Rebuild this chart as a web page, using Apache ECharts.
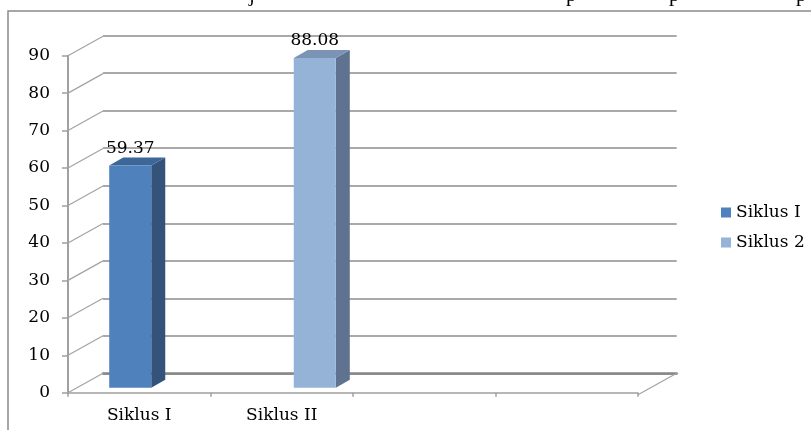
<!DOCTYPE html>
<html>
<head>
<meta charset="utf-8">
<script src="https://cdn.jsdelivr.net/npm/echarts@6/dist/echarts.min.js"></script>
<style>html,body{margin:0;padding:0;background:#fff;}#c{width:811px;height:430px;}</style>
</head>
<body>
<div id="c"></div>
<script>
const categories = ['Siklus I', 'Siklus II', '', ''];
const seriesNames = ['Siklus I', 'Siklus 2'];
const siklus1 = [59.37, null, null, null];
const siklus2 = [null, 88.08, null, null];
const yTickValues = [0, 10, 20, 30, 40, 50, 60, 70, 80, 90];

const FONT = '"DejaVu Serif", "Liberation Serif", serif';
const DEPTH_X = 35, DEPTH_Y = -19.5;   // floor depth (projection)
const BAR_DX = 12, BAR_DY = -5;        // bar front-face shift
const BAR_SX = 14, BAR_SY = -8;        // bar depth

function barRender(slot, front, side, topc) {
  return function (params, api) {
    const cat = api.value(0), val = api.value(1);
    const base = api.coord([cat, 0]);
    const top = api.coord([cat, val]);
    const bw = api.size([1, 0])[0];
    const w = bw * 0.295;
    const x0 = (slot < 0 ? base[0] - w : base[0]) + BAR_DX;
    const x1 = x0 + w;
    const yt = top[1] + BAR_DY, yb = base[1] + BAR_DY;
    return {
      type: 'group',
      children: [
        { type: 'polygon', shape: { points: [[x1, yt], [x1 + BAR_SX, yt + BAR_SY], [x1 + BAR_SX, yb + BAR_SY], [x1, yb]] }, style: { fill: side } },
        { type: 'polygon', shape: { points: [[x0, yt], [x0 + BAR_SX, yt + BAR_SY], [x1 + BAR_SX, yt + BAR_SY], [x1, yt]] }, style: { fill: topc } },
        { type: 'rect', shape: { x: x0, y: yt, width: w, height: yb - yt }, style: { fill: front } },
        { type: 'text', x: (x0 + x1) / 2, y: yt - 17, style: { text: val.toFixed(2), font: '17px ' + FONT, fill: '#000', align: 'center', verticalAlign: 'middle' } }
      ]
    };
  };
}

function toData(arr) {
  const out = [];
  arr.forEach((v, i) => { if (v != null) out.push([i, v]); });
  return out;
}

const chart = echarts.init(document.getElementById('c'), null, { renderer: 'canvas' });
chart.setOption({
  animation: false,
  backgroundColor: '#fff',
  graphic: [
    { type: 'rect', shape: { x: 8, y: 11, width: 900, height: 500 }, style: { fill: 'none', stroke: '#8a8a8a', lineWidth: 1.5 }, silent: true },
    { type: 'text', x: 249, y: -15, style: { text: 'j', font: '21px "Liberation Serif"', fill: '#000' } },
    { type: 'text', x: 566, y: -15, style: { text: 'p', font: '21px "Liberation Serif"', fill: '#000' } },
    { type: 'text', x: 669, y: -15, style: { text: 'p', font: '21px "Liberation Serif"', fill: '#000' } },
    { type: 'text', x: 796, y: -15, style: { text: 'p', font: '21px "Liberation Serif"', fill: '#000' } }
  ],
  legend: {
    data: seriesNames,
    orient: 'vertical',
    left: 716,
    top: 199,
    itemWidth: 10,
    itemHeight: 10,
    itemGap: 13,
    icon: 'rect',
    textStyle: { fontFamily: FONT, fontSize: 17, color: '#000' }
  },
  grid: [
    { left: 68, right: 173, top: 55.7, bottom: 37.3 },
    { left: 103, right: 134.3, top: 35.7, bottom: 56.7 }
  ],
  xAxis: [
    {
      gridIndex: 0, type: 'category', data: categories, offset: 2,
      axisLine: { show: true, lineStyle: { color: '#a0a0a0', width: 1.5 } },
      axisTick: { show: true, interval: 0, length: 4, lineStyle: { color: '#a0a0a0', width: 1.5 } },
      axisLabel: { interval: 0, margin: 12, fontFamily: FONT, fontSize: 17, color: '#000' },
      splitLine: { show: false }
    },
    {
      gridIndex: 1, type: 'category', data: categories,
      axisLine: { show: true, lineStyle: { color: '#878787', width: 2.5 } },
      axisTick: { show: false }, axisLabel: { show: false }, splitLine: { show: false }
    }
  ],
  yAxis: [
    {
      gridIndex: 0, type: 'value', min: 0, max: 90, interval: 10,
      axisLine: { show: true, lineStyle: { color: '#a0a0a0', width: 2 } },
      axisTick: { show: true, length: 6, lineStyle: { color: '#a0a0a0', width: 1.5 } },
      axisLabel: { margin: 18, fontFamily: FONT, fontSize: 17, color: '#000' },
      splitLine: { show: false }
    },
    {
      gridIndex: 1, type: 'value', min: 0, max: 90, interval: 10,
      axisLine: { show: false }, axisTick: { show: false }, axisLabel: { show: false },
      splitLine: { show: true, lineStyle: { color: '#8c8c8c', width: 1.5 } }
    }
  ],
  series: [
    {
      type: 'custom', name: '_diag', xAxisIndex: 0, yAxisIndex: 0, silent: true, z: 1,
      data: yTickValues.map(v => [0, v]),
      renderItem: function (params, api) {
        const v = api.value(1);
        const p = api.coord([0, v]);
        const bw = api.size([1, 0])[0];
        const x = p[0] - bw / 2;
        const children = [
          { type: 'line', shape: { x1: x, y1: p[1], x2: x + DEPTH_X, y2: p[1] + DEPTH_Y }, style: { stroke: '#a3a3a3', lineWidth: 1.2 } }
        ];
        if (v === 0) {
          const pr = api.coord([categories.length - 1, 0]);
          const xr = pr[0] + bw / 2;
          children.push({ type: 'line', shape: { x1: xr, y1: p[1] + 2, x2: xr + 38.7, y2: p[1] + DEPTH_Y }, style: { stroke: '#a3a3a3', lineWidth: 1.2 } });
        }
        return { type: 'group', children: children };
      }
    },
    {
      type: 'custom', name: seriesNames[0], xAxisIndex: 0, yAxisIndex: 0, z: 3,
      itemStyle: { color: '#4f81bd' },
      data: toData(siklus1),
      renderItem: barRender(-1, '#4f81bd', '#34527a', '#3d6699')
    },
    {
      type: 'custom', name: seriesNames[1], xAxisIndex: 0, yAxisIndex: 0, z: 3,
      itemStyle: { color: '#95b3d7' },
      data: toData(siklus2),
      renderItem: barRender(1, '#95b3d7', '#5f7290', '#7b93b4')
    }
  ]
});
</script>
</body>
</html>
